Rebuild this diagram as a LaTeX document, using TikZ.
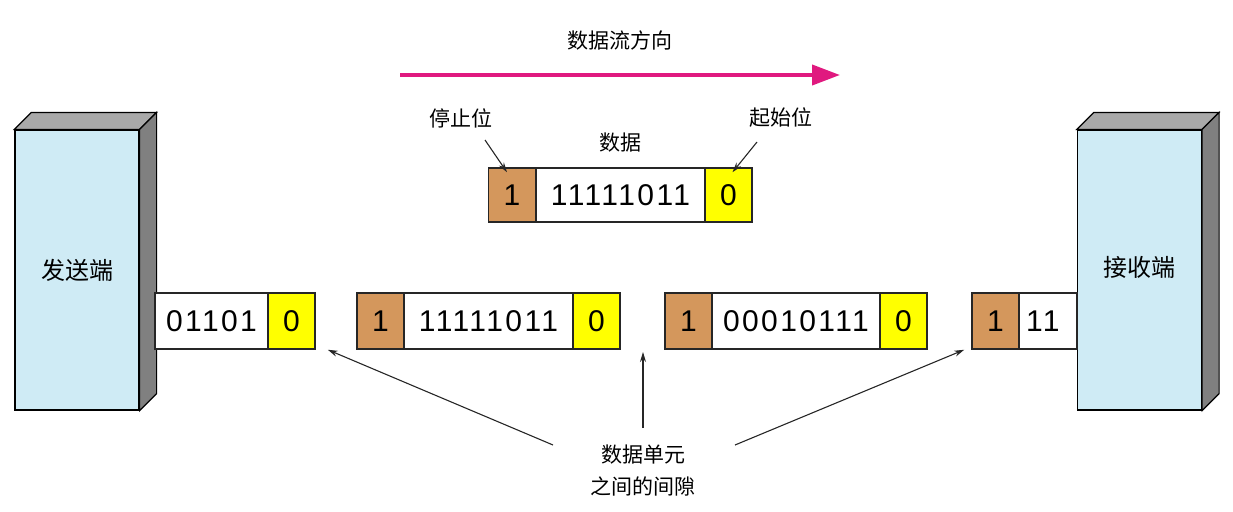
\documentclass[tikz,border=0pt]{standalone}
\usepackage{fontspec}
\setmainfont{Liberation Sans}
\newfontfamily\cjk{Noto Sans CJK SC}
\newfontfamily\digitfont[LetterSpace=8]{Liberation Sans}
\usetikzlibrary{arrows.meta,calc}
\definecolor{hostblue}{HTML}{CFEBF5}
\definecolor{sidegray}{HTML}{808080}
\definecolor{topgray}{HTML}{A9A9A9}
\definecolor{stopbrown}{HTML}{D4975C}
\definecolor{startyellow}{HTML}{FFFF00}
\definecolor{flowpink}{HTML}{E0197F}
\begin{document}
\begin{tikzpicture}[x=1pt,y=-1pt,
 cell/.style={draw=black!85,line width=1.5pt,minimum height=56pt,inner sep=0pt,font=\digitfont\fontsize{30}{30}\selectfont},
 stopcell/.style={cell,fill=stopbrown,minimum width=47pt},
 datacell/.style={cell,fill=white},
 startcell/.style={cell,fill=startyellow,minimum width=47pt},
 host/.style={draw=black,line width=1.2pt,fill=hostblue,minimum width=124pt,minimum height=280pt,inner sep=0pt,font=\cjk\fontsize{24}{24}\selectfont},
 face/.style={draw=black,line width=1.2pt},
 lbl/.style={font=\cjk\fontsize{21}{21}\selectfont,inner sep=1pt},
 ptr/.style={-{Stealth[length=10pt,width=6pt]},line width=1.1pt,black!85}]
\useasboundingbox (0,0) rectangle (1233,511);

% sender
\node[host] (snd) at (77,270) {发送端};
\draw[face,fill=topgray] (snd.north west) -- ++(17,-17) -- ($(snd.north east)+(17,-17)$) -- (snd.north east) -- cycle;
\draw[face,fill=sidegray] (snd.north east) -- ++(17,-17) -- ($(snd.south east)+(17,-17)$) -- (snd.south east) -- cycle;

% receiver
\node[host] (rcv) at (1139.5,270) {\raisebox{7pt}{接收端}};
\draw[face,fill=topgray] (rcv.north west) -- ++(17,-17) -- ($(rcv.north east)+(17,-17)$) -- (rcv.north east) -- cycle;
\draw[face,fill=sidegray] (rcv.north east) -- ++(17,-17) -- ($(rcv.south east)+(17,-17)$) -- (rcv.south east) -- cycle;

% flow direction
\node[lbl] (flowlbl) at (620,40) {数据流方向};
\coordinate (fl0) at (400,75);
\coordinate (fl1) at (840,75);
\draw[flowpink,line width=4pt,-{Triangle[length=28pt,width=20pt]}] (fl0) -- (fl1);

% top frame
\node[stopcell,minimum height=54pt] (tb1) at (512,195) {1};
\node[datacell,minimum height=54pt,minimum width=169pt] (tb2) at (620.5,195) {11111011};
\node[startcell,minimum height=54pt] (tb3) at (728.5,195) {0};
\node[lbl] (stoplbl) at (461,118) {停止位};
\node[lbl] (startlbl) at (781,118) {起始位};
\node[lbl] (datalbl) at (620,143) {数据};
\coordinate (sa) at (485,140);
\coordinate (sb) at (757,142);
\draw[ptr] (sa) -- ($(tb1.north)+(-5,5)$);
\draw[ptr] (sb) -- ($(tb3.north)+(4,5)$);

% frame 1
\node[datacell,minimum width=113pt] (f1b) at (211.5,321) {01101};
\node[startcell] (f1c) at (291.5,321) {0};

% frame 2
\node[stopcell] (f2a) at (380.5,321) {1};
\node[datacell,minimum width=169pt] (f2b) at (488.5,321) {11111011};
\node[startcell] (f2c) at (596.5,321) {0};

% frame 3
\node[stopcell] (f3a) at (688.5,321) {1};
\node[datacell,minimum width=168pt] (f3b) at (796,321) {00010111};
\node[startcell] (f3c) at (903.5,321) {0};

% frame 4
\node[stopcell] (f4a) at (995.5,321) {1};
\node[datacell,minimum width=58pt,text width=44pt] (f4b) at (1048,321) {11};

% gap label and arrows
\node[lbl,align=center,font=\cjk\fontsize{21}{32}\selectfont] (gaplbl) at (643,471) {数据单元\\之间的间隙};
\coordinate (g1) at (553,445);
\coordinate (g2) at (643,428);
\coordinate (g3) at (735,445);
\draw[ptr] (g1) -- ($(f1c.south east)+(12,0)$);
\draw[ptr] (g2) -- (643,352);
\draw[ptr] (g3) -- ($(f4a.south west)+(-7,0)$);
\end{tikzpicture}
\end{document}
